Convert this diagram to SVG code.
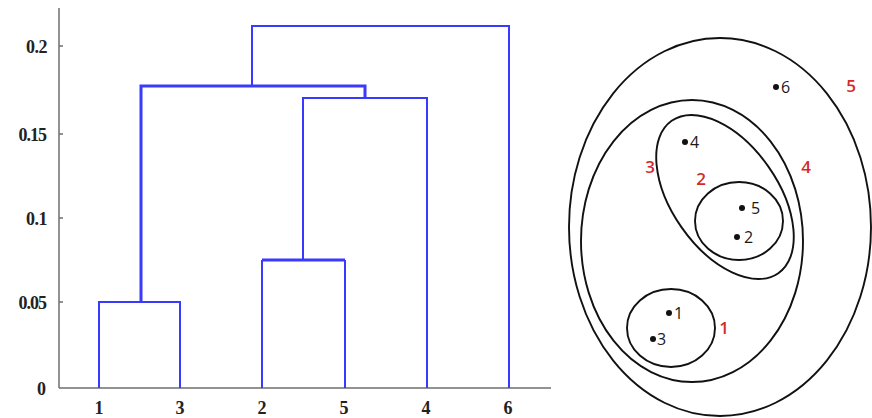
<svg xmlns="http://www.w3.org/2000/svg" width="872" height="418" viewBox="0 0 872 418">
<style>
.ax{stroke:#6e6e6e;stroke-width:1.5;fill:none}
.d{stroke:#3a3aff;stroke-width:2;fill:none}
.dt{stroke:#3a3aff;stroke-width:3;fill:none}
.tl{font-family:"Liberation Serif",serif;font-weight:bold;font-size:18px;fill:#222}
.c{fill:none;stroke:#111;stroke-width:1.9}
.pt{fill:#111}
.pl{font-family:"Open Sans","Liberation Sans",sans-serif;font-size:16px;fill:#1a1a1a}
.rl{font-family:"Open Sans","Liberation Sans",sans-serif;font-size:17px;font-weight:600;fill:#d42a2a}
</style>
<rect width="872" height="418" fill="#fff"/>
<g id="axes">
<line class="ax" x1="59" y1="8" x2="59" y2="388"/>
<line class="ax" x1="59" y1="388" x2="551" y2="388"/>
<g class="ax"><line x1="59" y1="46" x2="63" y2="46"/><line x1="59" y1="134" x2="63" y2="134"/><line x1="59" y1="218" x2="63" y2="218"/><line x1="59" y1="302" x2="63" y2="302"/></g>
<g class="tl" text-anchor="end">
<text x="47" y="53" letter-spacing="-0.5">0.2</text>
<text x="46" y="141" letter-spacing="-1">0.15</text>
<text x="47" y="225" letter-spacing="-0.5">0.1</text>
<text x="46" y="309" letter-spacing="-1">0.05</text>
<text x="46" y="395">0</text>
</g>
<g class="tl" text-anchor="middle">
<text x="99" y="414">1</text>
<text x="180" y="414">3</text>
<text x="262" y="414">2</text>
<text x="344" y="414">5</text>
<text x="426" y="414">4</text>
<text x="508" y="414">6</text>
</g>
</g>
<g id="connectors">
<path class="d" d="M99 388V302H180V388"/>
<path class="dt" d="M141 302V86H365V98"/>
<path class="d" d="M262 388V260"/>
<path class="d" d="M345 388V260"/>
<path class="dt" d="M262 260H345"/>
<path class="d" d="M303 260V98H427V388"/>
<path class="d" d="M252 86V26H509V388"/>
</g>
<g id="cluster5"><ellipse class="c" cx="720" cy="227" rx="151" ry="189"/><text class="rl" x="851" y="92" text-anchor="middle">5</text></g>
<g id="cluster4"><ellipse class="c" cx="692" cy="241" rx="111" ry="141"/><text class="rl" x="806" y="173" text-anchor="middle">4</text></g>
<g id="cluster3"><ellipse class="c" cx="725" cy="197" rx="93" ry="53" transform="rotate(55 725 197)"/><text class="rl" x="650" y="173" text-anchor="middle">3</text></g>
<g id="cluster2"><ellipse class="c" cx="739" cy="221" rx="44" ry="39"/><text class="rl" x="701" y="185" text-anchor="middle">2</text></g>
<g id="cluster1"><ellipse class="c" cx="671" cy="328" rx="44" ry="39"/><text class="rl" x="724" y="334" text-anchor="middle">1</text></g>
<g id="p6"><circle class="pt" cx="776" cy="87" r="3"/><text class="pl" x="781" y="93">6</text></g>
<g id="p4"><circle class="pt" cx="685" cy="142" r="3"/><text class="pl" x="690" y="148">4</text></g>
<g id="p5"><circle class="pt" cx="742" cy="208" r="3"/><text class="pl" x="751" y="214">5</text></g>
<g id="p2"><circle class="pt" cx="737" cy="237" r="3"/><text class="pl" x="744" y="243">2</text></g>
<g id="p1"><circle class="pt" cx="669" cy="313" r="3"/><text class="pl" x="674" y="319">1</text></g>
<g id="p3"><circle class="pt" cx="653" cy="339" r="3"/><text class="pl" x="657" y="345">3</text></g>
</svg>
